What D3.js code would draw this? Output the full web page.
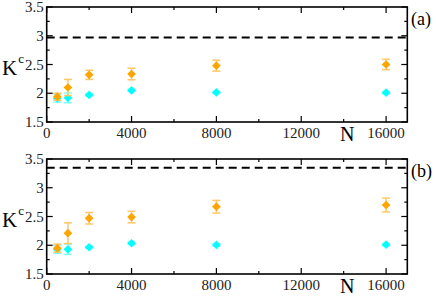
<!DOCTYPE html>
<html><head><meta charset="utf-8">
<script src="https://cdn.jsdelivr.net/npm/d3@7"></script>
<style>html,body{margin:0;padding:0;background:#fff;}svg{display:block;}</style>
</head><body>
<svg id="c" width="436" height="297"></svg>
<script>
const N = [500, 1000, 2000, 4000, 8000, 16000];
const orangeA = [1.94, 2.10, 2.32, 2.335, 2.48, 2.50];
const orangeAErr = [0.06, 0.14, 0.08, 0.10, 0.095, 0.09];
const cyanA = [1.915, 1.92, 1.97, 2.05, 2.015, 2.01];
const cyanAErr = [0.07, 0.085, 0.02, 0.02, 0.02, 0.02];
const dashA = 2.97;
const orangeB = [1.95, 2.21, 2.47, 2.49, 2.67, 2.70];
const orangeBErr = [0.07, 0.18, 0.10, 0.10, 0.11, 0.12];
const cyanB = [1.93, 1.93, 1.965, 2.035, 2.005, 2.01];
const cyanBErr = [0.07, 0.09, 0.02, 0.02, 0.02, 0.02];
const dashB = 3.35;
const xTicks = [0, 4000, 8000, 12000, 16000];
const yTicks = [1.5, 2, 2.5, 3, 3.5];
const panelLabels = ["(a)", "(b)"];

const svg = d3.select("#c");
const font = "'Liberation Serif', 'DejaVu Serif', serif";
const left = 46.7, right = 407.3, ph = 115;
const panels = [
  {top: 7, orange: orangeA, oe: orangeAErr, cyan: cyanA, ce: cyanAErr, dash: dashA, label: panelLabels[0]},
  {top: 159, orange: orangeB, oe: orangeBErr, cyan: cyanB, ce: cyanBErr, dash: dashB, label: panelLabels[1]}
];
const x = d3.scaleLinear().domain([0, 17000]).range([left, right]);
const diamond = d3.symbol().type(d3.symbolSquare).size(38)();

panels.forEach(p => {
  const y = d3.scaleLinear().domain([1.5, 3.5]).range([p.top + ph, p.top]);
  const g = svg.append("g");
  g.append("line").attr("x1", left).attr("x2", right)
    .attr("y1", y(p.dash)).attr("y2", y(p.dash))
    .attr("stroke", "#000").attr("stroke-width", 2).attr("stroke-dasharray", "8,5");
  const xMinor = d3.range(0, 17001, 2000);
  const yMinor = d3.range(1.5, 3.501, 0.25);
  const tk = g.append("g").attr("stroke", "#000").attr("stroke-width", 1.2);
  xMinor.forEach(v => {
    const L = (v % 4000 === 0) ? 6 : 3;
    tk.append("line").attr("x1", x(v)).attr("x2", x(v)).attr("y1", p.top + ph).attr("y2", p.top + ph - L);
    tk.append("line").attr("x1", x(v)).attr("x2", x(v)).attr("y1", p.top).attr("y2", p.top + L);
  });
  yMinor.forEach(v => {
    const major = Math.abs(v * 2 - Math.round(v * 2)) < 1e-6;
    const L = major ? 6 : 3;
    tk.append("line").attr("x1", left).attr("x2", left + L).attr("y1", y(v)).attr("y2", y(v));
    tk.append("line").attr("x1", right).attr("x2", right - L).attr("y1", y(v)).attr("y2", y(v));
  });
  g.append("rect").attr("x", left).attr("y", p.top).attr("width", right - left).attr("height", ph)
    .attr("fill", "none").attr("stroke", "#000").attr("stroke-width", 1.6);
  yTicks.forEach(v => {
    g.append("text").attr("x", left - 3).attr("y", y(v) + 5).attr("text-anchor", "end")
      .attr("font-family", font).attr("font-size", 15).attr("fill", "#222").text(String(v));
  });
  xTicks.forEach(v => {
    g.append("text").attr("x", x(v)).attr("y", p.top + ph + 16).attr("text-anchor", "middle")
      .attr("font-family", font).attr("font-size", 15).attr("fill", "#222").text(String(v));
  });
  const kt = g.append("text").attr("x", 2).attr("y", y(2.5) + 10)
    .attr("font-family", font).attr("font-size", 21).attr("fill", "#000");
  kt.append("tspan").text("K");
  kt.append("tspan").attr("dy", -12).attr("dx", 1).attr("font-size", 13).text("c");
  g.append("text").attr("x", 340).attr("y", p.top + ph + 19)
    .attr("font-family", font).attr("font-size", 20).attr("fill", "#000").text("N");
  g.append("text").attr("x", 411).attr("y", p.top + 18)
    .attr("font-family", font).attr("font-size", 18).attr("fill", "#000").text(p.label);
  const series = [
    {vals: p.cyan, err: p.ce, color: "#00FFFF", ecol: "#7FFFFF"},
    {vals: p.orange, err: p.oe, color: "#FFA500", ecol: "#FFC766"}
  ];
  series.forEach(s => {
    const eg = g.append("g").attr("stroke", s.ecol).attr("stroke-width", 1.5);
    N.forEach((n, i) => {
      const cx = x(n), y1 = y(s.vals[i] + s.err[i]), y2 = y(s.vals[i] - s.err[i]);
      eg.append("line").attr("x1", cx).attr("x2", cx).attr("y1", y1).attr("y2", y2);
      eg.append("line").attr("x1", cx - 4).attr("x2", cx + 4).attr("y1", y1).attr("y2", y1);
      eg.append("line").attr("x1", cx - 4).attr("x2", cx + 4).attr("y1", y2).attr("y2", y2);
    });
    N.forEach((n, i) => {
      g.append("path").attr("d", diamond)
        .attr("transform", `translate(${x(n)},${y(s.vals[i])}) rotate(45)`)
        .attr("fill", s.color);
    });
  });
});
</script>
</body></html>
